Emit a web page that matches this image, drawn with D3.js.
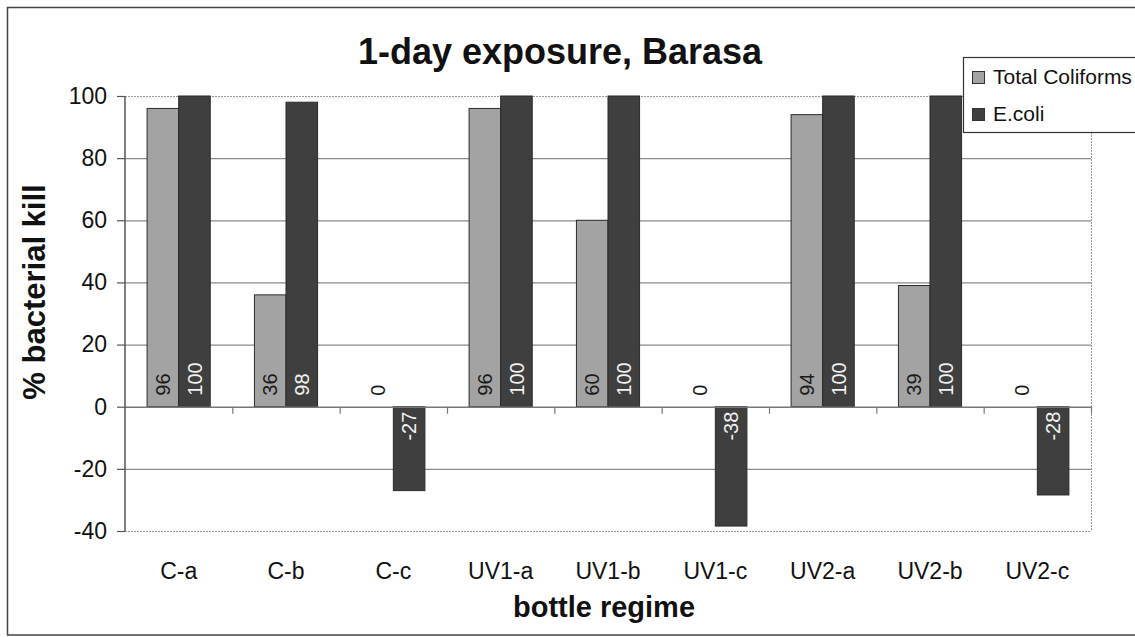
<!DOCTYPE html>
<html>
<head>
<meta charset="utf-8">
<script src="https://cdn.jsdelivr.net/npm/d3@7"></script>
<style>
  html, body { margin: 0; padding: 0; background: #fff; }
  svg { display: block; font-family: Arial, "Liberation Sans", sans-serif; }
</style>
</head>
<body>
<svg id="chart" width="1135" height="637"></svg>
<script>
const categories = ["C-a", "C-b", "C-c", "UV1-a", "UV1-b", "UV1-c", "UV2-a", "UV2-b", "UV2-c"];
const seriesNames = ["Total Coliforms", "E.coli"];
const totalColiforms = [96, 36, 0, 96, 60, 0, 94, 39, 0];
const eColi = [100, 98, -27, 100, 100, -38.4, 100, 100, -28.4];
const yTicks = [-40, -20, 0, 20, 40, 60, 80, 100];
const titleText = "1-day exposure, Barasa";
const xTitle = "bottle regime";
const yTitle = "% bacterial kill";

const colors = { "Total Coliforms": "#a3a3a3", "E.coli": "#3f3f3f" };
const labelColors = { "Total Coliforms": "#1a1a1a", "E.coli": "#f2f2f2" };

const svg = d3.select("#chart");

// outer frame
svg.append("rect").attr("x", 7.5).attr("y", 7.5).attr("width", 1140).attr("height", 627.5)
  .attr("fill", "none").attr("stroke", "#444").attr("stroke-width", 1.5);

const plot = { left: 125, right: 1091, top: 96, bottom: 531 };

const x = d3.scaleBand().domain(categories).range([plot.left, plot.right]).padding(0);
const y = d3.scaleLinear().domain([-40, 100]).range([plot.bottom, plot.top]);

const groupW = x.bandwidth() / 1.7;
const xs = d3.scaleBand().domain(seriesNames)
  .range([(x.bandwidth() - groupW) / 2, (x.bandwidth() + groupW) / 2]).padding(0);

const hyph = v => String(Math.round(v));

// gridlines (solid inside, dotted plot border)
svg.append("g").selectAll("line").data(yTicks.filter(t => t !== 0 && t !== -40 && t !== 100))
  .join("line")
  .attr("x1", plot.left).attr("x2", plot.right)
  .attr("y1", d => y(d) + 0.5).attr("y2", d => y(d) + 0.5)
  .attr("stroke", "#8a8a8a").attr("stroke-width", 1.2);

svg.append("g").selectAll("line").data([100, -40]).join("line")
  .attr("x1", plot.left).attr("x2", plot.right)
  .attr("y1", d => y(d) + 0.5).attr("y2", d => y(d) + 0.5)
  .attr("stroke", "#999").attr("stroke-width", 1).attr("stroke-dasharray", "2,1");
svg.append("line")
  .attr("x1", plot.right + 0.5).attr("x2", plot.right + 0.5)
  .attr("y1", y(100)).attr("y2", y(-40))
  .attr("stroke", "#999").attr("stroke-width", 1).attr("stroke-dasharray", "2,1");

// bars
const rows = categories.map((c, i) => ({ cat: c, values: [
  { name: seriesNames[0], value: totalColiforms[i] },
  { name: seriesNames[1], value: eColi[i] }
]}));

const groups = svg.append("g").selectAll("g").data(rows).join("g")
  .attr("transform", d => `translate(${x(d.cat)},0)`);

groups.selectAll("rect").data(d => d.values.filter(v => v.value !== 0)).join("rect")
  .attr("x", d => xs(d.name))
  .attr("width", xs.bandwidth())
  .attr("y", d => Math.min(y(d.value), y(0)))
  .attr("height", d => Math.abs(y(d.value) - y(0)))
  .attr("fill", d => colors[d.name])
  .attr("stroke", "#2a2a2a").attr("stroke-width", 1);

// value labels (rotated, inside base)
groups.selectAll("text").data(d => d.values).join("text")
  .attr("transform", d => {
    const cx = xs(d.name) + xs.bandwidth() / 2;
    const cy = d.value >= 0 ? y(0) - 11 : y(0) + 5;
    return `translate(${cx},${cy}) rotate(-90)`;
  })
  .attr("text-anchor", d => d.value >= 0 ? "start" : "end")
  .attr("dy", "0.36em")
  .attr("font-size", 20)
  .attr("fill", d => d.value === 0 ? "#1a1a1a" : labelColors[d.name])
  .text(d => hyph(d.value));

// zero axis line with ticks at category boundaries
const bounds = categories.map(c => x(c)).concat([x.range()[1]]);
svg.append("line").attr("x1", plot.left).attr("x2", plot.right)
  .attr("y1", y(0) + 0.5).attr("y2", y(0) + 0.5)
  .attr("stroke", "#777").attr("stroke-width", 1.5);
svg.append("g").selectAll("line").data(bounds.slice(1)).join("line")
  .attr("x1", d => d + 0.5).attr("x2", d => d + 0.5)
  .attr("y1", y(0)).attr("y2", y(0) + 7)
  .attr("stroke", "#777").attr("stroke-width", 1.2);

// y axis
const yAxis = svg.append("g").attr("transform", `translate(${plot.left},0)`)
  .call(d3.axisLeft(y).tickValues(yTicks).tickSize(8).tickPadding(10).tickFormat(hyph));
yAxis.select(".domain").attr("stroke", "#555").attr("stroke-width", 1.5).attr("d", `M0,${plot.top}V${plot.bottom}`);
yAxis.selectAll(".tick line").attr("stroke", "#555").attr("stroke-width", 1.2);
yAxis.selectAll(".tick text").attr("font-size", 23).attr("fill", "#111")
  .attr("font-family", "Arial, 'Liberation Sans', sans-serif");

// x category labels
const xAxis = svg.append("g").attr("transform", `translate(0,${plot.bottom})`)
  .call(d3.axisBottom(x).tickSize(0).tickPadding(32));
xAxis.select(".domain").remove();
xAxis.selectAll(".tick text").attr("font-size", 23).attr("fill", "#111")
  .attr("font-family", "Arial, 'Liberation Sans', sans-serif");

// titles
svg.append("text").attr("x", 560).attr("y", 64).attr("text-anchor", "middle")
  .attr("font-size", 36).attr("font-weight", "bold").attr("fill", "#111").text(titleText);

svg.append("text").attr("x", 604).attr("y", 617).attr("text-anchor", "middle")
  .attr("font-size", 29).attr("font-weight", "bold").attr("fill", "#111").text(xTitle);

svg.append("text").attr("transform", "translate(45,292) rotate(-90)").attr("text-anchor", "middle")
  .attr("font-size", 31).attr("font-weight", "bold").attr("fill", "#111").text(yTitle);

// legend
const lg = svg.append("g");
lg.append("rect").attr("x", 963.5).attr("y", 57.5).attr("width", 180).attr("height", 75)
  .attr("fill", "#fff").attr("stroke", "#333").attr("stroke-width", 1.2);
const items = lg.selectAll("g.item").data(seriesNames).join("g").attr("class", "item")
  .attr("transform", (d, i) => `translate(972,${77 + i * 37})`);
items.append("rect").attr("x", 0.5).attr("y", -5.5).attr("width", 12).attr("height", 12)
  .attr("fill", d => colors[d]).attr("stroke", "#333").attr("stroke-width", 1);
items.append("text").attr("x", 21).attr("y", 7).attr("font-size", 21).attr("fill", "#111").text(d => d);
</script>
</body>
</html>
